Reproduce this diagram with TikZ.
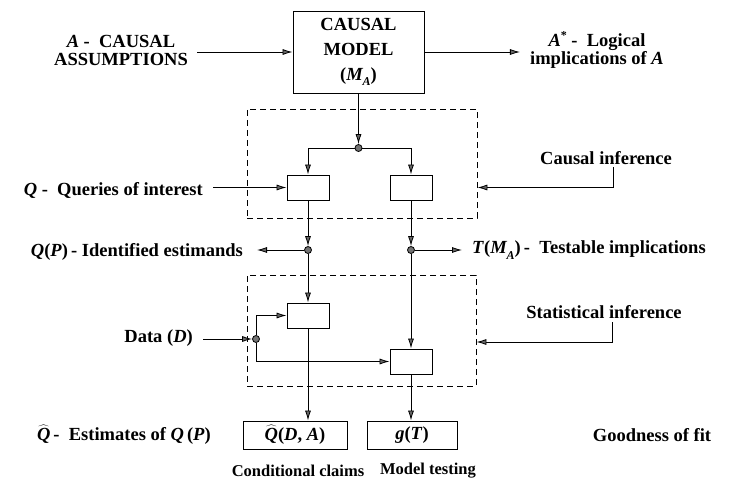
\documentclass[tikz,border=0pt]{standalone}
\usepackage{fontspec}
\setmainfont{Liberation Serif}
\usetikzlibrary{arrows.meta}
\newcommand{\mi}[1]{\textit{#1}}
\newcommand{\MA}{\mi{M}\kern-0.5pt\raisebox{-0.3em}{\fontsize{12}{12}\selectfont\mi{A}}}
\newcommand{\Qhat}{$\widehat{\mbox{\mi{Q}}}$}
\begin{document}
\begin{tikzpicture}[x=1pt,y=-1pt,
  every node/.style={font=\fontsize{18.5}{18}\selectfont\bfseries},
  lbl/.style={align=center, inner sep=0pt},
  small/.style={font=\fontsize{16.5}{18}\selectfont\bfseries},
  sbox/.style={draw, line width=0.9pt, minimum width=42pt, minimum height=25pt, inner sep=0pt},
  dbox/.style={draw, line width=0.8pt, dash pattern=on 6pt off 4pt, inner sep=0pt},
  arr/.style={-{Latex[length=10pt,width=6pt,fill=black!60]}, line width=0.8pt},
  ln/.style={line width=0.8pt},
  dot/.style={circle, draw, line width=0.8pt, fill=black!55, inner sep=0pt, minimum size=7pt}]
\useasboundingbox (0,0) rectangle (729,495);

% top row
\node[lbl] (asm) at (121,50) {\mi{A} -\ \ CAUSAL\\ASSUMPTIONS};
\node[draw, line width=0.9pt, minimum width=131pt, minimum height=82pt, inner sep=0pt, align=center,
      font=\fontsize{18.5}{25}\selectfont\bfseries] (model) at (358.5,52) {CAUSAL\\MODEL\\(\MA)};
\node[lbl] (impl) at (597,50) {\mi{A}\raisebox{0.35em}{\fontsize{12}{12}\selectfont*}\ -\ \ Logical\\implications of \mi{A}};
\draw[arr] (model.west -| asm.east) ++(9,0) -- (model.west);
\draw[arr] (model.east) -- ([xshift=-10pt]model.east -| impl.west);

% causal inference block
\node[dbox, minimum width=230pt, minimum height=109pt] (cbox) at (362,163.5) {};
\node[dot] (d1) at (358.5,148) {};
\node[sbox] (L1) at (308,187.5) {};
\node[sbox] (R1) at (411,187.5) {};
\draw[arr] (model.south) -- (d1);
\draw[arr] (d1) -| (L1.north);
\draw[arr] (d1) -| (R1.north);

\node[lbl, anchor=east] (qq) at (203,190) {\mi{Q} -\ \ Queries of interest};
\draw[arr] (L1.west -| qq.east) ++(10,0) -- (L1.west);

\node[lbl] (ci) at (606,158) {Causal inference};
\coordinate (cit) at (613,167);
\draw[arr] (cit) |- (cbox.east |- L1.east);

% middle row
\node[dot] (d2) at (308,250) {};
\node[dot] (d3) at (411,250) {};
\draw[arr] (L1.south) -- (d2);
\draw[arr] (R1.south) -- (d3);
\node[lbl, anchor=east] (qp) at (243,252) {\mi{Q}(\mi{P})\,-\ Identified estimands};
\node[lbl, anchor=west] (tm) at (472,250) {\mi{T}(\MA)\,-\ \ Testable implications};
\draw[arr] (d2) -- ([xshift=14pt]qp.east |- d2);
\draw[arr] (d3) -- ([xshift=-10pt]tm.west |- d3);

% statistical inference block
\node[dbox, minimum width=229pt, minimum height=111pt] (stbox) at (361.5,330.5) {};
\node[sbox] (L2) at (308,315.5) {};
\node[sbox] (R2) at (411,361.5) {};
\draw[arr] (d2) -- (L2.north);
\draw[arr] (d3) -- (R2.north);

\node[lbl, anchor=east] (data) at (193,338) {Data (\mi{D})};
\node[dot] (d4) at (256,339) {};
\draw[arr] (data.east |- d4) ++(10,0) -- (d4);
\draw[arr] (d4) |- (L2.west);
\draw[arr] (d4) |- (R2.west);

\node[lbl] (si) at (604,312) {Statistical inference};
\coordinate (sit) at (612,322);
\coordinate (sia) at (612,342);
\draw[arr] (sit) -- (sia) -- (sia -| stbox.east);

% bottom row
\node[draw, line width=0.9pt, minimum width=104pt, minimum height=28pt, inner sep=0pt] (B1) at (295,435) {\Qhat(\mi{D}, \mi{A})};
\node[draw, line width=0.9pt, minimum width=90pt, minimum height=28pt, inner sep=0pt] (B2) at (412,435) {\mi{g}(\mi{T})};
\draw[arr] (L2.south) -- (L2.south |- B1.north);
\draw[arr] (R2.south) -- (R2.south |- B2.north);

\node[lbl, anchor=east] (qh) at (211,435) {\Qhat\,-\ \ Estimates of \mi{Q}\,(\mi{P})};
\node[lbl] (gof) at (652,435) {Goodness of fit};
\node[lbl, small] (cc) at (298,471) {Conditional claims};
\node[lbl, small] (mt) at (428,471) {Model testing};
\end{tikzpicture}
\end{document}
